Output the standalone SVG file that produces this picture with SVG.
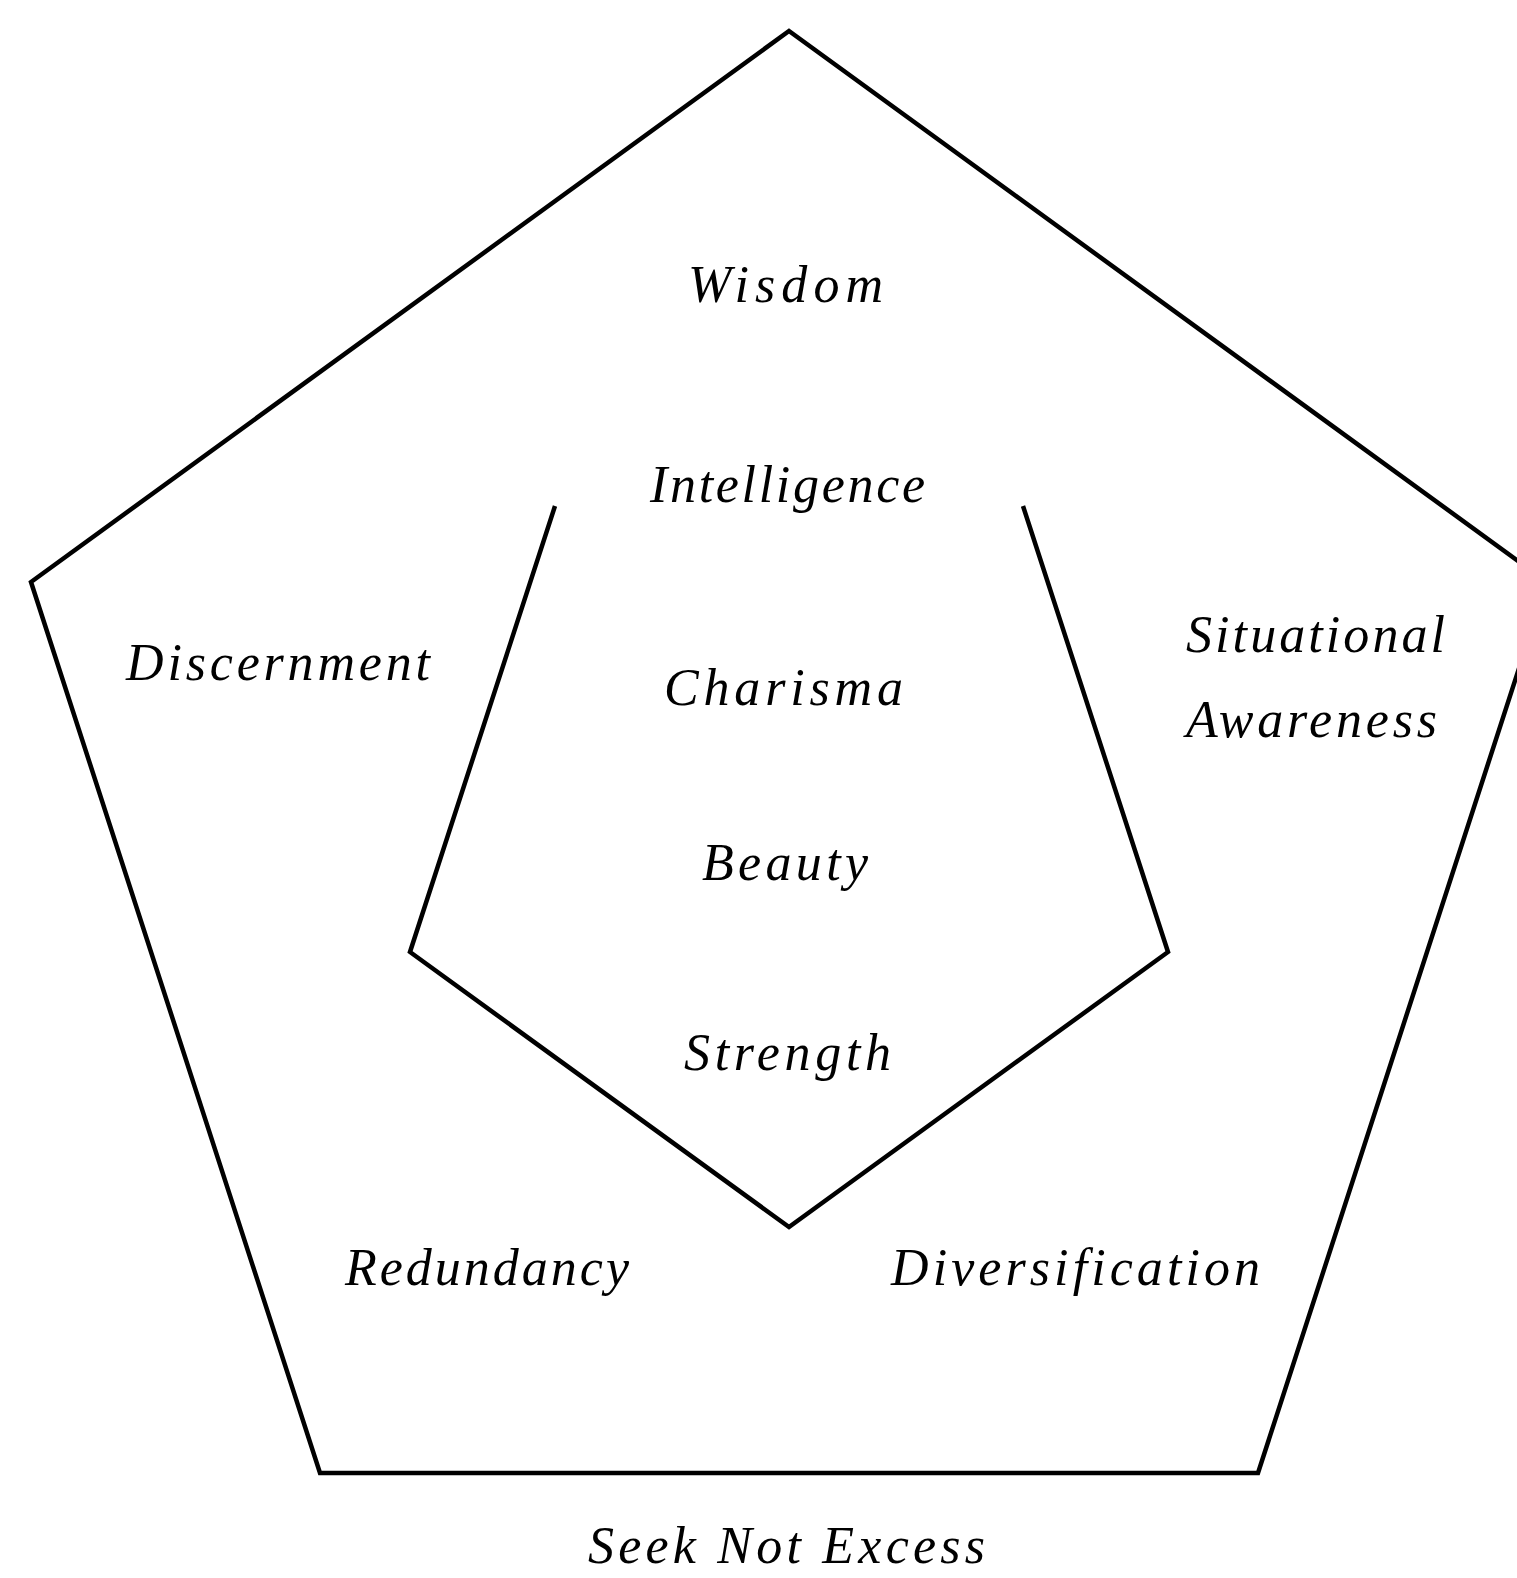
<svg xmlns="http://www.w3.org/2000/svg" width="1517" height="1578" viewBox="0 0 1517 1578">
<style>
.edge{fill:none;stroke:#000;stroke-width:4.5;stroke-linejoin:miter}
.lbl{font-family:"Liberation Serif","Times New Roman",serif;font-style:italic;font-size:52px;fill:#000}
</style>
<rect width="1517" height="1578" fill="#fff"/>
<g id="connectors">
<polygon id="outer" class="edge" points="789,31 1547,582 1258,1473 320,1473 31,582"/>
<polyline id="inner" class="edge" points="555,506 410,952 789,1227 1168,952 1023,506"/>
</g>
<g id="wisdom"><text class="lbl" x="688" y="302" textLength="195" lengthAdjust="spacing">Wisdom</text></g>
<g id="intelligence"><text class="lbl" x="650" y="502" textLength="275" lengthAdjust="spacing">Intelligence</text></g>
<g id="charisma"><text class="lbl" x="664" y="705" textLength="239" lengthAdjust="spacing">Charisma</text></g>
<g id="beauty"><text class="lbl" x="702" y="880" textLength="166" lengthAdjust="spacing">Beauty</text></g>
<g id="strength"><text class="lbl" x="684" y="1070" textLength="207" lengthAdjust="spacing">Strength</text></g>
<g id="discernment"><text class="lbl" x="126" y="680" textLength="304" lengthAdjust="spacing">Discernment</text></g>
<g id="situational"><text class="lbl" x="1186" y="652" textLength="259" lengthAdjust="spacing">Situational</text><text class="lbl" x="1186" y="737" textLength="251" lengthAdjust="spacing">Awareness</text></g>
<g id="redundancy"><text class="lbl" x="345" y="1285" textLength="284" lengthAdjust="spacing">Redundancy</text></g>
<g id="diversification"><text class="lbl" x="891" y="1285" textLength="369" lengthAdjust="spacing">Diversification</text></g>
<g id="seeknotexcess"><text class="lbl" x="588" y="1563" textLength="397" lengthAdjust="spacing">Seek Not Excess</text></g>
</svg>
